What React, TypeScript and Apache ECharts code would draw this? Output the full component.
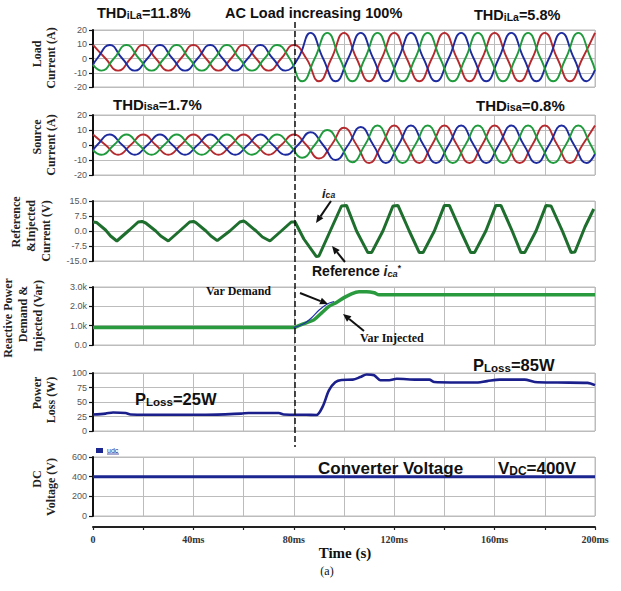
import React, { useEffect, useRef } from 'react';
import * as echarts from 'echarts';

// ---------- DATA ----------
const xTickLabels: Record<number, string> = { 0: '0', 40: '40ms', 80: '80ms', 120: '120ms', 160: '160ms', 200: '200ms' };

// sampling instants (ms) of the key points of each phase (peaks, zero crossings, troughs)
const tA = Array.from({ length: 41 }, (_, i) => i * 5);
const tB = [0, ...Array.from({ length: 40 }, (_, k) => 1.667 + 5 * k), 200];
const tC = [0, ...Array.from({ length: 40 }, (_, k) => 3.333 + 5 * k), 200];

// Load current (A)
const loadRed = [9.5, 0, -8.5, 0, 9.5, 0, -8.5, 0, 9.5, 0, -8.5, 0, 9.5, 0, -8.5, 0,
  9.5,
  0, -16, 0, 18, 0, -16, 0, 18, 0, -16, 0, 18, 0, -16, 0, 18, 0, -16, 0, 18, 0, -16, 0, 18];
const loadBlue = [-4.5,
  0, 9.5, 0, -8.5, 0, 9.5, 0, -8.5, 0, 9.5, 0, -8.5, 0, 9.5, 0, -8.5,
  0, 18, 0, -16, 0, 18, 0, -16, 0, 18, 0, -16, 0, 18, 0, -16, 0, 18, 0, -16, 0, 18, 0, -16,
  -8];
const loadGreen = [-4.5,
  -8.5, 0, 9.5, 0, -8.5, 0, 9.5, 0, -8.5, 0, 9.5, 0, -8.5, 0, 9.5, 0,
  -16, 0, 18, 0, -16, 0, 18, 0, -16, 0, 18, 0, -16, 0, 18, 0, -16, 0, 18, 0, -16, 0, 18, 0,
  -8];

// Source current (A)
const srcRed = [7, 0, -6.5, 0, 7, 0, -6.5, 0, 7, 0, -6.5, 0, 7, 0, -6.5, 0,
  7,
  0, -9, 0, 11.5, 0, -12, 0, 13,
  0, -12, 0, 13, 0, -12, 0, 13, 0, -12, 0, 13, 0, -12, 0, 13];
const srcBlue = [-3.5,
  0, 7, 0, -6.5, 0, 7, 0, -6.5, 0, 7, 0, -6.5, 0, 7, 0, -6.5,
  0, 8.5, 0, -10, 0, 12, 0, -12,
  0, 13, 0, -12, 0, 13, 0, -12, 0, 13, 0, -12, 0, 13, 0, -12,
  -6];
const srcGreen = [-3.5,
  -6.5, 0, 7, 0, -6.5, 0, 7, 0, -6.5, 0, 7, 0, -6.5, 0, 7, 0,
  -8.5, 0, 10, 0, -11.5, 0, 13, 0,
  -12, 0, 13, 0, -12, 0, 13, 0, -12, 0, 13, 0, -12, 0, 13, 0,
  -6];

// Reference & injected compensating current
const refT = [0, 1.5, 5, 7, 9.5, 14.5, 18, 19.5, 21, 25, 27, 30, 34.5, 38.5, 40, 41, 45, 47, 49.5, 54.5, 58.5, 60, 61, 65, 67.5, 70.5, 75, 79, 80.5,
  84, 89, 90, 94.5, 99, 101, 105, 109.5, 111, 115.5, 119.5, 121.5, 126, 130, 131.5, 136, 140, 142, 146.5, 150.5, 152, 156.5, 160.5, 162.5, 167, 170.5, 172, 176.5, 180.5, 182.5, 187, 190.5, 192, 196, 199.5];
const refV = [4.5, 4.2, 0.5, -2.5, -5, 0.5, 4.5, 4.8, 4, 0, -2.5, -5, 0, 4.5, 4.8, 4.2, 0, -2.5, -4.8, 0, 4.5, 5, 4.2, 0, -3, -5, 0, 4.5, 4.5,
  -4, -12.8, -12.5, 0, 12.5, 12.8, 0, -10.8, -10.8, 0, 12.5, 12.8, 0, -10.8, -10.8, 0, 12.8, 12.8, 0, -10.8, -10.8, 0, 12.8, 12.8, 0, -10.8, -10.8, 0, 12.8, 12.5, 0, -10.8, -10.5, 2, 11];

// Reactive power (kVar)
const qInjT = [0, 80, 82, 85, 88, 91, 94, 97, 100, 103, 106, 109, 112, 114, 200];
const qInjV = [0.9, 0.9, 1.0, 1.15, 1.3, 1.65, 2.0, 2.2, 2.45, 2.65, 2.75, 2.75, 2.7, 2.6, 2.6];
const qDemT = [80, 84, 87, 90, 93, 96];
const qDemV = [0.9, 1.1, 1.4, 1.8, 2.1, 2.25];

// Power loss (W)
const pT = [0, 5, 8, 13, 15, 30, 45, 59, 62, 74, 76, 85, 89, 91.5, 94, 96.5, 99, 103.5, 106.5, 109, 112, 114.5, 118, 121, 129, 134, 136, 152, 157, 162, 172, 176, 185, 197, 200];
const pV = [28.5, 30, 32, 31, 28.5, 28, 28, 30, 31, 31, 28.5, 28, 27.5, 42, 70, 84, 88, 88.5, 93, 97.5, 96, 87.5, 87.5, 90, 88.5, 88.5, 84.5, 83.5, 86, 88.5, 88.5, 84.5, 83.5, 83, 79];

// DC voltage (V)
const dcT = [0, 200];
const dcV = [400, 400];

// ---------- STYLE ----------
const RED = '#b52a2e';
const BLUE = '#1d2b9e';
const GREEN = '#1f9a3c';
const SANS = '"Liberation Sans", Arial, sans-serif';
const SERIF = '"Liberation Serif", "Times New Roman", serif';
const GRID_C = '#bcbcbc';

const zip = (t: number[], v: number[]) => t.map((x, i) => [x, v[i]]);

const panels = [
  { top: 30, height: 57, min: -20, max: 20, interval: 10, fmt: (v: number) => String(v) },
  { top: 115, height: 60, min: -20, max: 20, interval: 10, fmt: (v: number) => String(v) },
  { top: 201, height: 60, min: -15, max: 15, interval: 7.5, fmt: (v: number) => v.toFixed(1) },
  { top: 287, height: 58, min: 0, max: 3, interval: 1, fmt: (v: number) => (v === 0 ? '0.0' : v.toFixed(1) + 'k') },
  { top: 373, height: 58, min: 0, max: 100, interval: 25, fmt: (v: number) => String(v) },
  { top: 457, height: 59, min: 0, max: 600, interval: 200, fmt: (v: number) => String(v) },
];

function arrow(x1: number, y1: number, x2: number, y2: number) {
  const a = Math.atan2(y2 - y1, x2 - x1);
  const L = 8, Wd = 3.5;
  const bx = x2 - L * Math.cos(a), by = y2 - L * Math.sin(a);
  const px = -Math.sin(a) * Wd, py = Math.cos(a) * Wd;
  return [
    { type: 'line', z: 50, shape: { x1, y1, x2: bx, y2: by }, style: { stroke: '#111', lineWidth: 2 } },
    { type: 'polygon', z: 50, shape: { points: [[x2, y2], [bx + px, by + py], [bx - px, by - py]] }, style: { fill: '#111' } },
  ];
}

function txt(x: number, y: number, text: string, font: any, extra: any = {}) {
  return {
    type: 'text', x, y, z: 60,
    style: {
      text, fill: '#111', align: 'left', verticalAlign: 'middle', textAlign: 'left', textVerticalAlign: 'middle',
      ...font,
    },
    ...extra,
  };
}

function yName(x: number, y: number, text: string) {
  return {
    type: 'text', x, y, z: 60, rotation: Math.PI / 2,
    style: {
      text, fill: '#222', font: `bold 12px ${SERIF}`,
      align: 'center', verticalAlign: 'middle', textAlign: 'center', textVerticalAlign: 'middle',
    },
  };
}

const richMain = (size: number, sub = 0.72) => ({
  m: { fontSize: size, fontWeight: 'bold', fontFamily: SANS, fill: '#111', verticalAlign: 'bottom' },
  s: { fontSize: size * sub, fontWeight: 'bold', fontFamily: SANS, fill: '#111', verticalAlign: 'bottom' },
  i: { fontSize: size, fontWeight: 'bold', fontStyle: 'italic', fontFamily: SANS, fill: '#222', verticalAlign: 'bottom' },
  si: { fontSize: size * 0.66, fontWeight: 'bold', fontStyle: 'italic', fontFamily: SANS, fill: '#222', verticalAlign: 'bottom' },
  sup: { fontSize: size * 0.6, fontWeight: 'bold', fontFamily: SANS, fill: '#222', verticalAlign: 'top' },
});

function richTxt(x: number, y: number, text: string, size: number, sub = 0.72) {
  return {
    type: 'text', x, y, z: 60,
    style: { text, rich: richMain(size, sub), align: 'left', verticalAlign: 'middle', textAlign: 'left', textVerticalAlign: 'middle' },
  };
}

export default function App() {
  const ref = useRef<HTMLDivElement>(null);
  useEffect(() => {
    document.body.style.margin = '0';
    const chart = echarts.init(ref.current!, null, { renderer: 'svg' });

    const grids: any[] = panels.map((p) => ({
      left: 93, width: 502, top: p.top, height: p.height,
      show: true, borderColor: GRID_C, borderWidth: 1, backgroundColor: 'transparent',
    }));
    grids.push({ left: 93, width: 502, top: 526, height: 1, show: false });

    const xAxes: any[] = panels.map((_, i) => ({
      gridIndex: i, type: 'value', min: 0, max: 200, interval: 20,
      axisLine: { show: false }, axisTick: { show: false }, axisLabel: { show: false },
      splitLine: { show: true, lineStyle: { color: GRID_C, width: 1 } },
    }));
    xAxes.push({
      gridIndex: 6, type: 'value', min: 0, max: 200, interval: 20, position: 'bottom',
      axisLine: { show: true, onZero: false, lineStyle: { color: '#222', width: 2 } },
      axisTick: { show: true, length: 3, lineStyle: { color: '#222', width: 1.2 } },
      axisLabel: {
        show: true, margin: 7, fontSize: 10, fontWeight: 'bold', fontFamily: SERIF, color: '#333',
        formatter: (v: number) => xTickLabels[v] ?? '',
      },
      splitLine: { show: false },
    });

    const yAxes: any[] = panels.map((p, i) => ({
      gridIndex: i, type: 'value', min: p.min, max: p.max, interval: p.interval,
      axisLine: { show: true, onZero: false, lineStyle: { color: '#111', width: 2 } },
      axisTick: { show: true, length: 4, lineStyle: { color: '#111', width: 1.2 } },
      axisLabel: { fontSize: 9, color: '#555', margin: 6, fontFamily: SANS, formatter: p.fmt },
      splitLine: { show: true, lineStyle: { color: GRID_C, width: 1 } },
    }));
    yAxes.push({ gridIndex: 6, type: 'value', show: false, min: 0, max: 1 });

    const wave = (name: string, idx: number, t: number[], v: number[], color: string) => ({
      name, type: 'line', xAxisIndex: idx, yAxisIndex: idx, data: zip(t, v),
      showSymbol: false, smooth: 0.5, lineStyle: { color, width: 1.9 }, itemStyle: { color },
    });

    const series: any[] = [
      wave('iLa', 0, tA, loadRed, RED),
      wave('iLb', 0, tB, loadBlue, BLUE),
      wave('iLc', 0, tC, loadGreen, GREEN),
      wave('isa', 1, tA, srcRed, RED),
      wave('isb', 1, tB, srcBlue, BLUE),
      wave('isc', 1, tC, srcGreen, GREEN),
      {
        name: 'ica', type: 'line', xAxisIndex: 2, yAxisIndex: 2, data: zip(refT, refV),
        showSymbol: false, lineStyle: { color: '#1e6e2e', width: 3 },
      },
      {
        name: 'Var Injected', type: 'line', xAxisIndex: 3, yAxisIndex: 3, data: zip(qInjT, qInjV),
        showSymbol: false, smooth: 0.3, lineStyle: { color: '#2a9a3e', width: 3.5 },
      },
      {
        name: 'Var Demand', type: 'line', xAxisIndex: 3, yAxisIndex: 3, data: zip(qDemT, qDemV),
        showSymbol: false, smooth: 0.3, lineStyle: { color: '#2233aa', width: 1.2 }, z: 3,
      },
      {
        name: 'Power Loss', type: 'line', xAxisIndex: 4, yAxisIndex: 4, data: zip(pT, pV),
        showSymbol: false, smooth: 0.3, lineStyle: { color: '#1a1f8c', width: 2.6 },
      },
      {
        name: 'udc', type: 'line', xAxisIndex: 5, yAxisIndex: 5, data: zip(dcT, dcV),
        showSymbol: false, lineStyle: { color: '#1c2690', width: 3 },
      },
    ];

    const graphic: any[] = [
      // event marker at 80 ms
      { type: 'line', z: 40, shape: { x1: 295, y1: 22, x2: 295, y2: 447 }, style: { stroke: '#111', lineWidth: 1.5, lineDash: [6, 3] } },

      richTxt(97, 13, '{m|THD}{s|iLa}{m|=11.8%}', 14.5),
      txt(225, 13, 'AC Load increasing 100%', { font: `bold 14.5px ${SANS}` }),
      richTxt(474, 15, '{m|THD}{s|iLa}{m|=5.8%}', 14.5),
      richTxt(113, 104, '{m|THD}{s|isa}{m|=1.7%}', 15),
      richTxt(476, 105, '{m|THD}{s|isa}{m|=0.8%}', 15),

      richTxt(322, 193, '{i|i}{si|ca}', 13),
      richTxt(312, 271, '{m|Reference }{i|i}{si|ca}{sup|*}', 14),
      ...arrow(331, 201, 316, 223),
      ...arrow(345, 262, 332, 246),

      txt(206, 291, 'Var Demand', { font: `bold 12px ${SERIF}` }),
      txt(360, 338, 'Var Injected', { font: `bold 12px ${SERIF}` }),
      ...arrow(300, 293, 328, 304),
      ...arrow(364, 331, 343, 314),

      richTxt(135, 399, '{m|P}{s|Loss}{m|=25W}', 16.5, 0.7),
      richTxt(473, 365, '{m|P}{s|Loss}{m|=85W}', 16.5, 0.7),

      txt(318, 468, 'Converter Voltage', { font: `bold 17px ${SANS}` }),
      richTxt(498, 468, '{m|V}{s|DC}{m|=400V}', 17, 0.7),

      { type: 'rect', z: 60, shape: { x: 96, y: 448, width: 7, height: 5 }, style: { fill: '#1c2690' } },
      txt(107, 450, 'udc', { font: `7px ${SANS}`, fill: '#1c2690' }),
      { type: 'line', z: 60, shape: { x1: 107, y1: 454, x2: 119, y2: 454 }, style: { stroke: '#1c2690', lineWidth: 0.8 } },

      {
        type: 'text', x: 345, y: 553, z: 60,
        style: { text: 'Time (s)', font: `bold 15px ${SERIF}`, fill: '#111', align: 'center', verticalAlign: 'middle', textAlign: 'center', textVerticalAlign: 'middle' },
      },
      {
        type: 'text', x: 327, y: 571, z: 60,
        style: { text: '(a)', font: `12px ${SERIF}`, fill: '#111', align: 'center', verticalAlign: 'middle', textAlign: 'center', textVerticalAlign: 'middle' },
      },

      yName(37, 54, 'Load'),
      yName(51, 58, 'Current (A)'),
      yName(37, 137, 'Source'),
      yName(51, 145, 'Current (A)'),
      yName(16, 222, 'Reference'),
      yName(31, 226, '&Injected'),
      yName(46, 231, 'Current (V)'),
      yName(8, 318, 'Reactive Power'),
      yName(23, 314, 'Demand &'),
      yName(38, 316, 'Injected (Var)'),
      yName(37, 393, 'Power'),
      yName(51, 400, 'Loss (W)'),
      yName(37, 479, 'DC'),
      yName(51, 487, 'Voltage (V)'),
    ];

    chart.setOption({
      animation: false,
      backgroundColor: '#ffffff',
      grid: grids,
      xAxis: xAxes,
      yAxis: yAxes,
      series,
      graphic,
    });
    return () => chart.dispose();
  }, []);
  return <div ref={ref} style={{ width: 621, height: 591 }} />;
}
